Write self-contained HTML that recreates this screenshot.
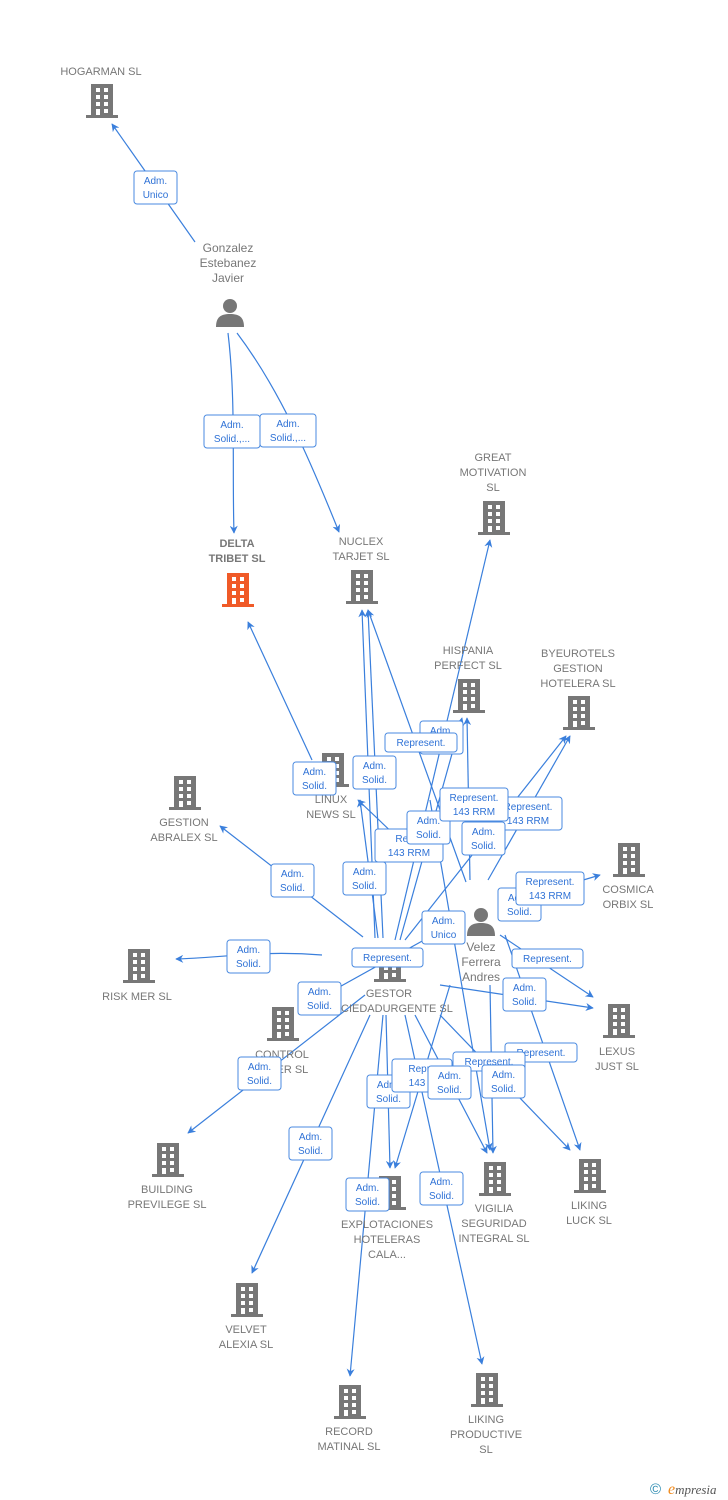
<!DOCTYPE html>
<html><head><meta charset="utf-8">
<style>
html,body{margin:0;padding:0;background:#fff;}
svg{display:block;font-family:"Liberation Sans",sans-serif;}
.n{fill:#777;font-size:11px;text-anchor:middle;}
.e{stroke:#3a7fdc;stroke-width:1.2;fill:none;marker-end:url(#a);}
.el{stroke:#3a7fdc;stroke-width:1.2;fill:none;}
.lb rect{fill:#fff;stroke:#4a8ae0;stroke-width:1;}
.lb text{fill:#2f72d6;font-size:10px;text-anchor:middle;}
</style></head><body>
<svg width="728" height="1500" viewBox="0 0 728 1500">
<defs>
<marker id="a" viewBox="0 0 10 10" refX="9" refY="5" markerWidth="8" markerHeight="8" orient="auto-start-reverse" markerUnits="userSpaceOnUse">
<path d="M0,0 L10,5 L0,10 L3,5 z" fill="#3a7fdc"/></marker>
<symbol id="b" viewBox="0 0 32 34">
<rect x="5" y="0" width="22" height="32"/><rect x="0" y="31" width="32" height="3"/>
<g fill="#fff"><rect x="10" y="4" width="4" height="4"/><rect x="18" y="4" width="4" height="4"/>
<rect x="10" y="11" width="4" height="4"/><rect x="18" y="11" width="4" height="4"/>
<rect x="10" y="18" width="4" height="4"/><rect x="18" y="18" width="4" height="4"/>
<rect x="10" y="25" width="4" height="6"/><rect x="18" y="25" width="4" height="4"/></g>
</symbol>
<symbol id="p" viewBox="0 0 30 30">
<circle cx="15" cy="9" r="7"/><path d="M1,30 C1,20 6,17 15,17 C24,17 29,20 29,30 z"/>
</symbol>
</defs>

<!-- edges -->
<path class="e" d="M195,242 L112,124"/>
<path class="e" d="M228,333 C236,400 232,470 234,533"/>
<path class="e" d="M237,333 C280,390 310,460 339,532"/>
<path class="e" d="M312,760 L248,622"/>
<path class="e" d="M375,938 L362,610"/>
<path class="e" d="M383,938 L368,610"/>
<path class="e" d="M466,882 L368,610"/>
<path class="e" d="M378,938 L360,800"/>
<path class="e" d="M400,840 L358,800"/>
<path class="e" d="M363,937 L220,826"/>
<path class="e" d="M322,955 C260,950 220,958 176,959"/>
<path class="e" d="M365,995 L188,1133"/>
<path class="e" d="M370,1015 L252,1273"/>
<path class="e" d="M383,1015 L350,1376"/>
<path class="e" d="M386,1015 L390,1168"/>
<path class="e" d="M405,1015 L482,1364"/>
<path class="e" d="M415,1015 L487,1153"/>
<path class="e" d="M440,1015 L570,1150"/>
<path class="e" d="M395,940 L490,540"/>
<path class="e" d="M400,940 L462,718"/>
<path class="e" d="M470,880 L467,718"/>
<path class="e" d="M405,940 L566,736"/>
<path class="e" d="M488,880 L570,736"/>
<path class="e" d="M500,905 L600,875"/>
<path class="e" d="M500,935 L593,997"/>
<path class="e" d="M440,985 L593,1008"/>
<path class="e" d="M505,935 L580,1150"/>
<path class="e" d="M490,985 L493,1153"/>
<path class="e" d="M450,985 L395,1168"/>
<path class="e" d="M460,920 L316,1000"/>
<path class="e" d="M430,800 L490,1150"/>

<!-- nodes -->
<g fill="#777">
<use href="#b" x="86" y="84" width="32" height="34"/>
<use href="#b" x="346" y="570" width="32" height="34"/>
<use href="#b" x="478" y="501" width="32" height="34"/>
<use href="#b" x="453" y="679" width="32" height="34"/>
<use href="#b" x="563" y="696" width="32" height="34"/>
<use href="#b" x="317" y="753" width="32" height="34"/>
<use href="#b" x="169" y="776" width="32" height="34"/>
<use href="#b" x="613" y="843" width="32" height="34"/>
<use href="#b" x="123" y="949" width="32" height="34"/>
<use href="#b" x="374" y="948" width="32" height="34"/>
<use href="#b" x="603" y="1004" width="32" height="34"/>
<use href="#b" x="267" y="1007" width="32" height="34"/>
<use href="#b" x="152" y="1143" width="32" height="34"/>
<use href="#b" x="479" y="1162" width="32" height="34"/>
<use href="#b" x="574" y="1159" width="32" height="34"/>
<use href="#b" x="374" y="1176" width="32" height="34"/>
<use href="#b" x="231" y="1283" width="32" height="34"/>
<use href="#b" x="334" y="1385" width="32" height="34"/>
<use href="#b" x="471" y="1373" width="32" height="34"/>
<use href="#p" x="215" y="297" width="30" height="30"/>
<use href="#p" x="466" y="906" width="30" height="30"/>
</g>
<use href="#b" x="222" y="573" width="32" height="34" fill="#f05a28"/>

<!-- node labels -->
<text class="n" x="101" y="75">HOGARMAN SL</text>
<text class="n" x="228" y="252" style="font-size:12px">Gonzalez</text>
<text class="n" x="228" y="267" style="font-size:12px">Estebanez</text>
<text class="n" x="228" y="282" style="font-size:12px">Javier</text>
<text class="n" x="237" y="547" style="font-weight:bold">DELTA</text>
<text class="n" x="237" y="562" style="font-weight:bold">TRIBET  SL</text>
<text class="n" x="361" y="545">NUCLEX</text>
<text class="n" x="361" y="560">TARJET  SL</text>
<text class="n" x="493" y="461">GREAT</text>
<text class="n" x="493" y="476">MOTIVATION</text>
<text class="n" x="493" y="491">SL</text>
<text class="n" x="468" y="654">HISPANIA</text>
<text class="n" x="468" y="669">PERFECT  SL</text>
<text class="n" x="578" y="657">BYEUROTELS</text>
<text class="n" x="578" y="672">GESTION</text>
<text class="n" x="578" y="687">HOTELERA  SL</text>
<text class="n" x="331" y="803">LINUX</text>
<text class="n" x="331" y="818">NEWS  SL</text>
<text class="n" x="184" y="826">GESTION</text>
<text class="n" x="184" y="841">ABRALEX  SL</text>
<text class="n" x="628" y="893">COSMICA</text>
<text class="n" x="628" y="908">ORBIX  SL</text>
<text class="n" x="481" y="951" style="font-size:12px">Velez</text>
<text class="n" x="481" y="966" style="font-size:12px">Ferrera</text>
<text class="n" x="481" y="981" style="font-size:12px">Andres</text>
<text class="n" x="137" y="1000">RISK MER  SL</text>
<text class="n" x="389" y="997">GESTOR</text>
<text class="n" x="389" y="1012">SOCIEDADURGENTE SL</text>
<text class="n" x="617" y="1055">LEXUS</text>
<text class="n" x="617" y="1070">JUST  SL</text>
<text class="n" x="282" y="1058">CONTROL</text>
<text class="n" x="282" y="1073">LASER  SL</text>
<text class="n" x="167" y="1193">BUILDING</text>
<text class="n" x="167" y="1208">PREVILEGE  SL</text>
<text class="n" x="494" y="1212">VIGILIA</text>
<text class="n" x="494" y="1227">SEGURIDAD</text>
<text class="n" x="494" y="1242">INTEGRAL  SL</text>
<text class="n" x="589" y="1209">LIKING</text>
<text class="n" x="589" y="1224">LUCK  SL</text>
<text class="n" x="387" y="1228">EXPLOTACIONES</text>
<text class="n" x="387" y="1243">HOTELERAS</text>
<text class="n" x="387" y="1258">CALA...</text>
<text class="n" x="246" y="1333">VELVET</text>
<text class="n" x="246" y="1348">ALEXIA  SL</text>
<text class="n" x="349" y="1435">RECORD</text>
<text class="n" x="349" y="1450">MATINAL  SL</text>
<text class="n" x="486" y="1423">LIKING</text>
<text class="n" x="486" y="1438">PRODUCTIVE</text>
<text class="n" x="486" y="1453">SL</text>

<!-- edge labels -->
<g class="lb">
<g transform="translate(134,171)"><rect width="43" height="33" rx="3"/><text x="21.5" y="13">Adm.</text><text x="21.5" y="27">Unico</text></g>
<g transform="translate(204,415)"><rect width="56" height="33" rx="3"/><text x="28" y="13">Adm.</text><text x="28" y="27">Solid.,...</text></g>
<g transform="translate(260,414)"><rect width="56" height="33" rx="3"/><text x="28" y="13">Adm.</text><text x="28" y="27">Solid.,...</text></g>
<g transform="translate(420,721)"><rect width="43" height="33" rx="3"/><text x="21.5" y="13">Adm.</text></g>
<g transform="translate(385,733)"><rect width="72" height="19" rx="3"/><text x="36" y="13">Represent.</text></g>
<g transform="translate(293,762)"><rect width="43" height="33" rx="3"/><text x="21.5" y="13">Adm.</text><text x="21.5" y="27">Solid.</text></g>
<g transform="translate(353,756)"><rect width="43" height="33" rx="3"/><text x="21.5" y="13">Adm.</text><text x="21.5" y="27">Solid.</text></g>
<g transform="translate(375,829)"><rect width="68" height="33" rx="3"/><text x="34" y="13">Repre</text><text x="34" y="27">143 RRM</text></g>
<g transform="translate(494,797)"><rect width="68" height="33" rx="3"/><text x="34" y="13">Represent.</text><text x="34" y="27">143 RRM</text></g>
<g transform="translate(462,822)"><rect width="43" height="33" rx="3"/><text x="21.5" y="13">Adm.</text><text x="21.5" y="27">Solid.</text></g>
<g transform="translate(407,811)"><rect width="43" height="33" rx="3"/><text x="21.5" y="13">Adm.</text><text x="21.5" y="27">Solid.</text></g>
<g transform="translate(440,788)"><rect width="68" height="33" rx="3"/><text x="34" y="13">Represent.</text><text x="34" y="27">143 RRM</text></g>
<g transform="translate(271,864)"><rect width="43" height="33" rx="3"/><text x="21.5" y="13">Adm.</text><text x="21.5" y="27">Solid.</text></g>
<g transform="translate(343,862)"><rect width="43" height="33" rx="3"/><text x="21.5" y="13">Adm.</text><text x="21.5" y="27">Solid.</text></g>
<g transform="translate(498,888)"><rect width="43" height="33" rx="3"/><text x="21.5" y="13">Adm.</text><text x="21.5" y="27">Solid.</text></g>
<g transform="translate(516,872)"><rect width="68" height="33" rx="3"/><text x="34" y="13">Represent.</text><text x="34" y="27">143 RRM</text></g>
<g transform="translate(422,911)"><rect width="43" height="33" rx="3"/><text x="21.5" y="13">Adm.</text><text x="21.5" y="27">Unico</text></g>
<g transform="translate(227,940)"><rect width="43" height="33" rx="3"/><text x="21.5" y="13">Adm.</text><text x="21.5" y="27">Solid.</text></g>
<g transform="translate(352,948)"><rect width="71" height="19" rx="3"/><text x="35.5" y="13">Represent.</text></g>
<g transform="translate(512,949)"><rect width="71" height="19" rx="3"/><text x="35.5" y="13">Represent.</text></g>
<g transform="translate(298,982)"><rect width="43" height="33" rx="3"/><text x="21.5" y="13">Adm.</text><text x="21.5" y="27">Solid.</text></g>
<g transform="translate(503,978)"><rect width="43" height="33" rx="3"/><text x="21.5" y="13">Adm.</text><text x="21.5" y="27">Solid.</text></g>
<g transform="translate(505,1043)"><rect width="72" height="19" rx="3"/><text x="36" y="13">Represent.</text></g>
<g transform="translate(238,1057)"><rect width="43" height="33" rx="3"/><text x="21.5" y="13">Adm.</text><text x="21.5" y="27">Solid.</text></g>
<g transform="translate(367,1075)"><rect width="43" height="33" rx="3"/><text x="21.5" y="13">Adm.</text><text x="21.5" y="27">Solid.</text></g>
<g transform="translate(392,1059)"><rect width="60" height="33" rx="3"/><text x="30" y="13">Repre</text><text x="30" y="27">143 R</text></g>
<g transform="translate(453,1052)"><rect width="72" height="19" rx="3"/><text x="36" y="13">Represent.</text></g>
<g transform="translate(428,1066)"><rect width="43" height="33" rx="3"/><text x="21.5" y="13">Adm.</text><text x="21.5" y="27">Solid.</text></g>
<g transform="translate(482,1065)"><rect width="43" height="33" rx="3"/><text x="21.5" y="13">Adm.</text><text x="21.5" y="27">Solid.</text></g>
<g transform="translate(289,1127)"><rect width="43" height="33" rx="3"/><text x="21.5" y="13">Adm.</text><text x="21.5" y="27">Solid.</text></g>
<g transform="translate(346,1178)"><rect width="43" height="33" rx="3"/><text x="21.5" y="13">Adm.</text><text x="21.5" y="27">Solid.</text></g>
<g transform="translate(420,1172)"><rect width="43" height="33" rx="3"/><text x="21.5" y="13">Adm.</text><text x="21.5" y="27">Solid.</text></g>
</g>

<text x="650" y="1494" style="font-size:15px;fill:#2a8ab0">©</text>
<text x="668" y="1494" style="font-size:13px;fill:#555;font-style:italic;font-family:'Liberation Serif',serif"><tspan fill="#f08a1c" style="font-size:16px">e</tspan>mpresia</text>
</svg>
</body></html>
